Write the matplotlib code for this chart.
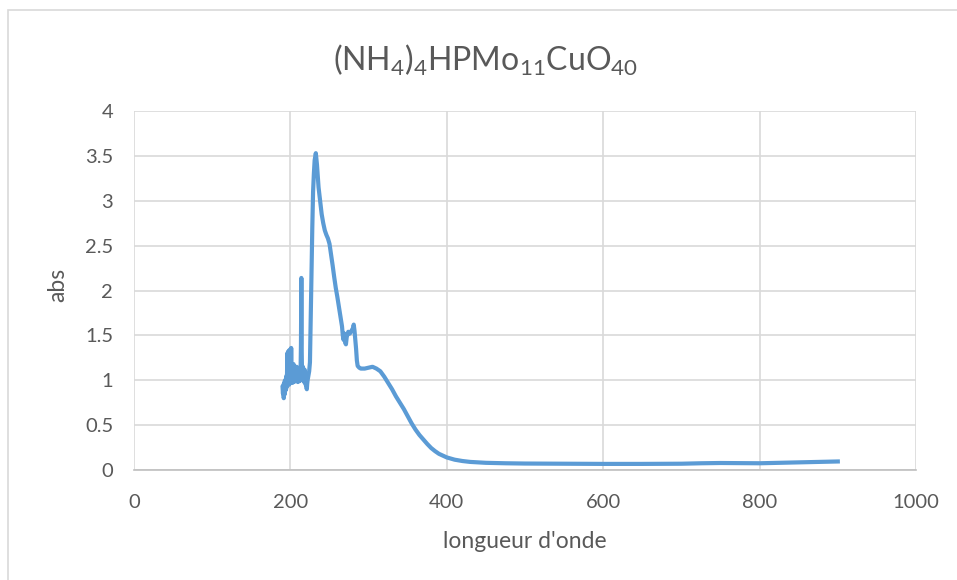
import matplotlib
matplotlib.use("Agg")
import matplotlib.pyplot as plt
from matplotlib.patches import Rectangle

plt.rcParams['font.family'] = ['Lato', 'DejaVu Sans']
plt.rcParams['mathtext.default'] = 'regular'

# spectre UV-visible, valeurs
longueur = [190, 190.5, 191, 191.5, 192, 192.5, 193, 193.5, 194, 194.5,
            195, 195.5, 196, 196.5, 197, 197.5, 198, 198.5, 199, 199.5,
            200, 200.5, 201, 201.5, 202, 202.5, 203, 203.5, 204, 204.5,
            205, 205.5, 206, 206.5, 207, 207.5, 208, 208.5, 209, 209.5,
            210, 210.5, 211, 211.5, 212, 212.5, 213, 213.5, 214, 214.5,
            215, 215.5, 216, 216.5, 217, 217.5, 218, 218.5, 219, 219.5,
            220, 220.5, 221, 221.5, 222, 223, 224, 225, 226, 227,
            228, 229, 230, 231, 232.5, 234, 236, 238, 240, 242,
            244, 246, 248, 250, 252, 254, 256, 258, 260, 262,
            264, 266, 267, 268, 269, 270, 271, 272, 274, 276,
            278, 280, 281, 282, 283, 284, 285, 286, 288, 290,
            295, 300, 305, 310, 315, 320, 325, 330, 335, 340,
            345, 350, 355, 360, 365, 370, 375, 380, 385, 390,
            395, 400, 410, 420, 430, 450, 475, 500, 550, 600,
            650, 700, 725, 750, 775, 800, 825, 850, 875, 900]
absorbance = [0.92, 0.85, 0.95, 0.80, 0.97, 0.84, 1.00, 0.88, 0.98, 0.90,
              1.05, 0.93, 1.30, 0.96, 1.32, 0.98, 1.10, 0.95, 1.34, 1.00,
              1.20, 0.98, 1.36, 1.02, 1.10, 0.97, 1.15, 1.00, 1.18, 0.98,
              1.08, 1.02, 1.12, 0.99, 1.10, 1.03, 1.15, 1.00, 1.12, 0.98,
              1.08, 1.00, 1.10, 0.99, 1.05, 1.00, 1.10, 1.40, 2.14, 1.30,
              1.00, 1.08, 1.15, 1.00, 1.10, 0.98, 1.12, 1.02, 1.08, 0.95,
              1.02, 0.92, 0.90, 0.96, 1.00, 1.05, 1.10, 1.20, 1.70, 2.20,
              2.70, 3.10, 3.30, 3.45, 3.53, 3.40, 3.15, 3.00, 2.85, 2.75,
              2.67, 2.62, 2.58, 2.52, 2.40, 2.28, 2.15, 2.03, 1.93, 1.82,
              1.71, 1.60, 1.50, 1.45, 1.52, 1.42, 1.40, 1.48, 1.54, 1.52,
              1.55, 1.58, 1.62, 1.55, 1.45, 1.35, 1.22, 1.16, 1.14, 1.13,
              1.13, 1.14, 1.15, 1.13, 1.10, 1.04, 0.97, 0.90, 0.82, 0.75,
              0.68, 0.60, 0.52, 0.45, 0.39, 0.34, 0.29, 0.245, 0.21, 0.18,
              0.16, 0.14, 0.115, 0.10, 0.09, 0.08, 0.075, 0.072, 0.07, 0.068,
              0.068, 0.07, 0.075, 0.078, 0.077, 0.075, 0.08, 0.085, 0.09, 0.095]

x_ticks = [0, 200, 400, 600, 800, 1000]
y_ticks = [0, 0.5, 1, 1.5, 2, 2.5, 3, 3.5, 4]
y_labels = ["0", "0.5", "1", "1.5", "2", "2.5", "3", "3.5", "4"]

gris = "#595959"

fig = plt.figure(figsize=(9.57, 5.8), dpi=100)
ax = fig.add_axes([134/957, 1 - 470/580, (916 - 134)/957, (470 - 111)/580])

ax.plot(longueur, absorbance, color="#5b9bd5", linewidth=3, solid_joinstyle="round")

ax.set_xlim(0, 1000)
ax.set_ylim(0, 4)
ax.set_xticks(x_ticks)
ax.set_yticks(y_ticks)
ax.set_yticklabels(y_labels)
ax.grid(True, color="#d9d9d9", linewidth=1.2)
ax.set_axisbelow(True)
for s in ["top", "right", "left"]:
    ax.spines[s].set_visible(False)
ax.spines["bottom"].set_color("#bfbfbf")
ax.spines["bottom"].set_linewidth(1.2)
ax.tick_params(length=0, labelsize=14.5, colors=gris)
ax.tick_params(axis="x", pad=17)
ax.tick_params(axis="y", pad=15)

fig.text(525/957, 1 - 541/580, "longueur d'onde", ha="center", va="center",
         fontsize=16.5, color=gris)
fig.text(58/957, 1 - 285/580, "abs", ha="center", va="center", rotation=90,
         fontsize=16.5, color=gris)
fig.text(486/957, 1 - 60/580, r"(NH$_4$)$_4$HPMo$_{11}$CuO$_{40}$",
         ha="center", va="center", fontsize=23, color=gris)

# cadre du graphique
fig.patches.append(Rectangle((8/957, -0.1), 1.1, 1 - 10/580 + 0.1,
                             transform=fig.transFigure, fill=False,
                             edgecolor="#d9d9d9", linewidth=1.2))

fig.savefig("out.png", dpi=100, facecolor="white")
